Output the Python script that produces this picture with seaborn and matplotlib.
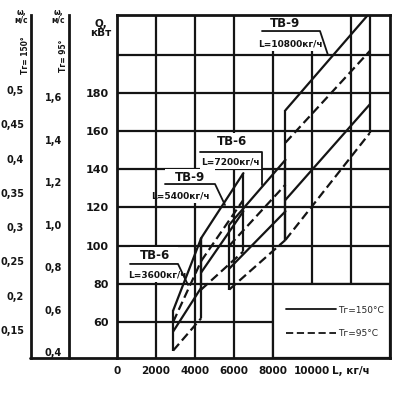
import matplotlib
matplotlib.use("Agg")
import matplotlib.pyplot as plt
import seaborn as sns
import pandas as pd
from matplotlib.lines import Line2D
from matplotlib.patches import Rectangle

# heater bands: L from 0.8*L to 1.2*L, Q at band start / end
heaters = ["ТВ-6", "ТВ-9", "ТВ-6", "ТВ-9"]
flows = [3600, 5400, 7200, 10800]
L_start = [2880, 4320, 5760, 8640]
L_end = [4320, 6480, 8640, 12960]
q150_top = [(66, 104), (104, 138), (111, 145), (171, 222)]
q150_bot = [(55, 78), (86, 118), (88, 118), (124, 174)]
q95_top = [(60, 92), (92, 124), (100, 132), (154, 202)]
q95_bot = [(45, 62), (77, 97), (77, 103), (103, 159)]

x_ticks = [0, 2000, 4000, 6000, 8000, 10000, 12000]
x_labels = ["0", "2000", "4000", "6000", "8000", "10000", "L, кг/ч"]
q_ticks = [60, 80, 100, 120, 140, 160, 180, 200]
q_labels = ["60", "80", "100", "120", "140", "160", "180", ""]
w150_ticks = [0.15, 0.2, 0.25, 0.3, 0.35, 0.4, 0.45, 0.5]
w150_labels = ["0,15", "0,2", "0,25", "0,3", "0,35", "0,4", "0,45", "0,5"]
w95_ticks = [0.4, 0.6, 0.8, 1.0, 1.2, 1.4, 1.6]
w95_labels = ["0,4", "0,6", "0,8", "1,0", "1,2", "1,4", "1,6"]

# label anchors (L, Q) for each heater callout
label_pos = [(1950, 94.6), (3750, 135.5), (5900, 154.8), (8615, 216.7)]
sub_pos = [(2050, 84.6), (3230, 126), (5800, 143.8), (8870, 205.7)]
line_span = [(667, 3128, 90.4), (2460, 5026, 132.3), (4256, 7436, 149.1), (7436, 10410, 212.5)]
leader_end = [(3641, 79.4), (5538, 121.3), (7436, 131.8), (10820, 199.9)]

sns.set_style("white")
plt.rcParams["font.family"] = ["DejaVu Sans"]
ink = "#141414"

# long-form table for seaborn
rows = []
for i in range(len(heaters)):
    for name, pair, temp in [("s_top", q150_top[i], "150"), ("s_bot", q150_bot[i], "150"),
                             ("d_top", q95_top[i], "95"), ("d_bot", q95_bot[i], "95")]:
        rows.append({"L": L_start[i], "Q": pair[0], "temp": temp, "line": f"{i}_{name}"})
        rows.append({"L": L_end[i], "Q": pair[1], "temp": temp, "line": f"{i}_{name}"})
df = pd.DataFrame(rows)

fig = plt.figure(figsize=(3.99, 3.94), dpi=100)
W, H = 399, 394
ax = fig.add_axes([117 / W, 1 - 358 / H, (390 - 117) / W, (358 - 15) / H])
ax.set_xlim(0, 14000)
ax.set_ylim(41.1, 220.9)

# grid
for x in x_ticks[1:]:
    ax.axvline(x, color=ink, lw=1.6, zorder=1)
for q in q_ticks:
    ax.axhline(q, color=ink, lw=1.6, zorder=1)

sns.lineplot(data=df, x="L", y="Q", units="line", estimator=None, style="temp",
             dashes={"150": "", "95": (4, 2)}, color=ink, lw=1.6, legend=False,
             ax=ax, zorder=3)

# vertical band edges
for i in range(len(heaters)):
    qs_start = [q150_top[i][0], q150_bot[i][0], q95_top[i][0], q95_bot[i][0]]
    qs_end = [q150_top[i][1], q150_bot[i][1], q95_top[i][1], q95_bot[i][1]]
    ax.vlines(L_start[i], min(qs_start), max(qs_start), color=ink, lw=1.6, zorder=3)
    ax.vlines(L_end[i], min(qs_end), max(qs_end), color=ink, lw=1.6, zorder=3)

# callouts
for i in range(len(heaters)):
    x0, x1, qy = line_span[i]
    y0 = sub_pos[i][1] - 3.5
    y1 = label_pos[i][1] + 4.5
    ax.add_patch(Rectangle((x0, y0), x1 - x0, y1 - y0,
                           facecolor="white", edgecolor="none", zorder=4))
    ax.text(*label_pos[i], heaters[i], ha="center", va="center", fontsize=8.5,
            fontweight="bold", color=ink, zorder=5)
    ax.text(*sub_pos[i], f"L={flows[i]}кг/ч", ha="center", va="center", fontsize=6.5,
            fontweight="bold", color=ink, zorder=5)
    ax.plot([x0, x1, leader_end[i][0]], [qy, qy, leader_end[i][1]], color=ink, lw=1.3, zorder=5)

# legend box in lower right cell block
ax.add_patch(Rectangle((8000, 41.1), 6000, 80 - 41.1, facecolor="white", edgecolor=ink,
                       lw=1.6, zorder=2))
handles = [Line2D([], [], color=ink, lw=1.3),
           Line2D([], [], color=ink, lw=1.3, dashes=(4, 2))]
ax.legend(handles, ["Tг=150°С", "Tг=95°С"], loc="lower right", bbox_to_anchor=(1.0, 0.04),
          frameon=False, fontsize=6.5, handlelength=5.5, labelspacing=1.6,
          handletextpad=0.2, borderaxespad=0.3)

ax.set_xticks(x_ticks)
ax.set_xticklabels(x_labels, fontsize=7.5, fontweight="bold", color=ink)
ax.set_yticks(q_ticks)
ax.set_yticklabels(q_labels, fontsize=8, fontweight="bold", color=ink)
ax.tick_params(length=0, pad=6)
ax.set_xlabel("")
ax.set_ylabel("")
for s in ax.spines.values():
    s.set_linewidth(2)
    s.set_color(ink)
    s.set_zorder(6)
ax.text(-0.06, 0.96, "Q,\nкВт", transform=ax.transAxes, ha="center", va="center",
        fontsize=7.5, fontweight="bold", color=ink, linespacing=0.9)

# water velocity scales on the left
def side_axis(xpix, lims, ticks, labels):
    a = fig.add_axes([xpix / W, 1 - 358 / H, 0.0001, (358 - 15) / H])
    a.set_ylim(*lims)
    a.set_xticks([])
    a.set_yticks(ticks)
    a.set_yticklabels(labels, fontsize=7, fontweight="bold", color=ink)
    a.tick_params(axis="y", length=3, width=1, pad=2, colors=ink)
    for k, s in a.spines.items():
        s.set_visible(k == "left")
    a.spines["left"].set_linewidth(2)
    a.spines["left"].set_color(ink)
    a.patch.set_alpha(0)
    return a

side_axis(31, (0.1092, 0.6094), w150_ticks, w150_labels)
side_axis(69, (0.3718, 1.986), w95_ticks, w95_labels)

fig.add_artist(Line2D([30 / W, 117 / W], [1 - 358 / H] * 2, transform=fig.transFigure,
                      color=ink, lw=2))
fig.text(21 / W, 1 - 16 / H, "ω,\nм/с", ha="center", va="center", fontsize=5.5,
         fontweight="bold", color=ink, linespacing=0.85)
fig.text(26 / W, 1 - 55 / H, "Tг= 150°", ha="center", va="center", fontsize=5.5,
         fontweight="bold", color=ink, rotation=90)
fig.text(58 / W, 1 - 16 / H, "ω,\nм/с", ha="center", va="center", fontsize=5.5,
         fontweight="bold", color=ink, linespacing=0.85)
fig.text(63 / W, 1 - 56 / H, "Tг= 95°", ha="center", va="center", fontsize=5.5,
         fontweight="bold", color=ink, rotation=90)

fig.savefig("out.png", dpi=100)
